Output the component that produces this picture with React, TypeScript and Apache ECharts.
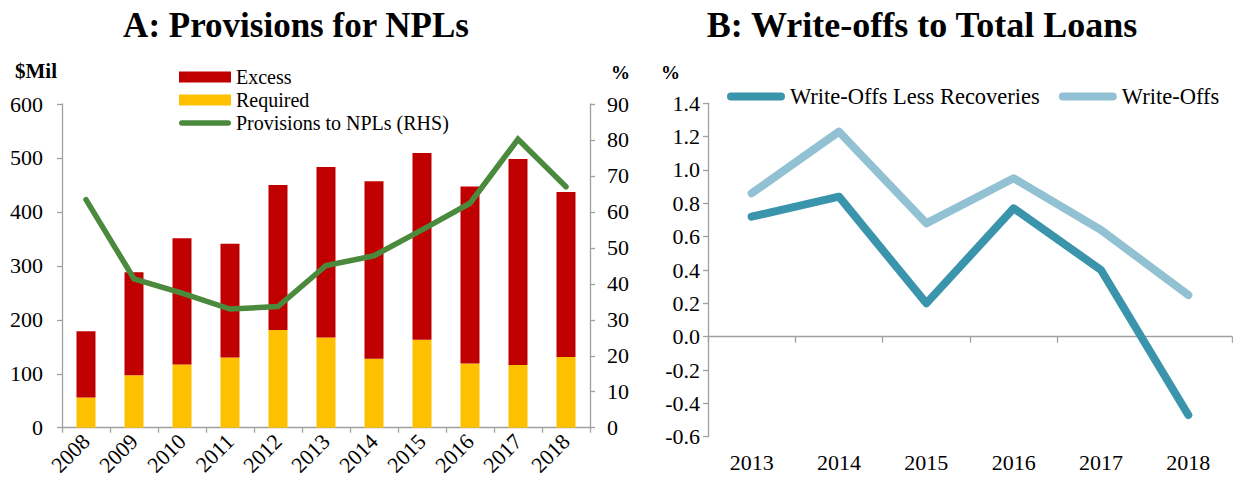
import React, { useEffect, useRef } from "react";
import * as echarts from "echarts";

const yearsA = ["2008", "2009", "2010", "2011", "2012", "2013", "2014", "2015", "2016", "2017", "2018"];
const requiredVals = [56, 97, 117, 130, 181, 167, 128, 163, 119, 116, 131];
const excessVals = [123, 191, 234, 211, 269, 316, 329, 346, 328, 382, 306];
const provisionsToNPLs = [63.4, 41.4, 37.4, 33.0, 33.7, 45.1, 47.8, 55.0, 62.4, 80.2, 67.0];

const yearsB = ["2013", "2014", "2015", "2016", "2017", "2018"];
const writeOffsLessRecoveries = [0.72, 0.84, 0.2, 0.77, 0.4, -0.47];
const writeOffs = [0.86, 1.23, 0.68, 0.95, 0.64, 0.25];

const FONT = "Liberation Serif";
const AXIS_COLOR = "#A0A0A0";

const greenIcon = "path://M2.75,0 L49.25,0 A2.75,2.75 0 0 1 49.25,5.5 L2.75,5.5 A2.75,2.75 0 0 1 2.75,0 Z";
const tealIcon = "path://M4,0 L54,0 A4,4 0 0 1 54,8 L4,8 A4,4 0 0 1 4,0 Z";

export default function App() {
  const ref = useRef<HTMLDivElement>(null);
  useEffect(() => {
    if (!ref.current) return;
    const chart = echarts.init(ref.current, undefined, { renderer: "svg" });
    const axisLine = { show: true, lineStyle: { color: AXIS_COLOR, width: 1.3 } };
    const axisTick = { show: true, length: 5, lineStyle: { color: AXIS_COLOR, width: 1.3 } };
    const lbl = { color: "#000", fontFamily: FONT, fontSize: 22 };
    chart.setOption({
      animation: false,
      backgroundColor: "#fff",
      textStyle: { fontFamily: FONT },
      grid: [
        { left: 62, top: 104, width: 528, height: 323.7, outerBoundsMode: "none", containLabel: false },
        { left: 708, top: 103.3, width: 524, height: 333.4, outerBoundsMode: "none", containLabel: false },
      ],
      xAxis: [
        {
          type: "category",
          gridIndex: 0,
          data: yearsA,
          boundaryGap: true,
          axisLine,
          axisTick: { ...axisTick, alignWithLabel: false },
          axisLabel: { ...lbl, rotate: 45, margin: 10, interval: 0 },
        },
        {
          type: "category",
          gridIndex: 1,
          data: yearsB,
          boundaryGap: true,
          axisLine: { ...axisLine, onZero: true },
          axisTick: { ...axisTick, length: 6, alignWithLabel: false },
          axisLabel: { show: false },
        },
        {
          type: "category",
          gridIndex: 1,
          data: yearsB,
          boundaryGap: true,
          position: "bottom",
          axisLine: { show: false, onZero: false },
          axisTick: { show: false },
          axisLabel: { ...lbl, margin: 15, interval: 0 },
        },
      ],
      yAxis: [
        {
          type: "value",
          gridIndex: 0,
          min: 0,
          max: 600,
          interval: 100,
          axisLine,
          axisTick,
          splitLine: { show: false },
          axisLabel: { ...lbl, margin: 19 },
        },
        {
          type: "value",
          gridIndex: 0,
          position: "right",
          min: 0,
          max: 90,
          interval: 10,
          axisLine,
          axisTick,
          splitLine: { show: false },
          axisLabel: { ...lbl, margin: 17 },
        },
        {
          type: "value",
          gridIndex: 1,
          min: -0.6,
          max: 1.4,
          interval: 0.2,
          axisLine,
          axisTick,
          splitLine: { show: false },
          axisLabel: { ...lbl, margin: 8, formatter: (v: number) => v.toFixed(1) },
        },
      ],
      legend: [
        {
          data: [
            { name: "Excess", icon: "rect" },
            { name: "Required", icon: "rect" },
            { name: "Provisions to NPLs (RHS)", icon: greenIcon },
          ],
          orient: "vertical",
          left: 179,
          top: 67,
          itemWidth: 52,
          itemHeight: 11,
          itemGap: 3,
          padding: 0,
          textStyle: { fontFamily: FONT, fontSize: 20, color: "#000" },
        },
        {
          data: [
            { name: "Write-Offs Less Recoveries", icon: tealIcon },
            { name: "Write-Offs", icon: tealIcon },
          ],
          orient: "horizontal",
          left: 727,
          top: 85,
          itemWidth: 58,
          itemHeight: 9,
          itemGap: 19,
          padding: 0,
          textStyle: { fontFamily: FONT, fontSize: 22.5, color: "#000" },
        },
      ],
      graphic: [
        {
          type: "text",
          x: 296,
          y: 25,
          style: {
            text: "A: Provisions for NPLs",
            font: `bold 35px "${FONT}"`,
            fill: "#000",
            align: "center",
            verticalAlign: "middle",
          },
        },
        {
          type: "text",
          x: 922,
          y: 25,
          style: {
            text: "B: Write-offs to Total Loans",
            font: `bold 36px "${FONT}"`,
            fill: "#000",
            align: "center",
            verticalAlign: "middle",
          },
        },
        {
          type: "text",
          x: 15,
          y: 71,
          style: { text: "$Mil", font: `bold 21px "${FONT}"`, fill: "#000", verticalAlign: "middle" },
        },
        {
          type: "text",
          x: 611,
          y: 72,
          style: { text: "%", font: `bold 19px "${FONT}"`, fill: "#000", verticalAlign: "middle" },
        },
        {
          type: "text",
          x: 661,
          y: 72,
          style: { text: "%", font: `bold 19px "${FONT}"`, fill: "#000", verticalAlign: "middle" },
        },
      ],
      series: [
        {
          name: "Required",
          type: "bar",
          xAxisIndex: 0,
          yAxisIndex: 0,
          stack: "prov",
          barWidth: 19,
          itemStyle: { color: "#FFC000" },
          data: requiredVals,
        },
        {
          name: "Excess",
          type: "bar",
          xAxisIndex: 0,
          yAxisIndex: 0,
          stack: "prov",
          barWidth: 19,
          itemStyle: { color: "#C00000" },
          data: excessVals,
        },
        {
          name: "Provisions to NPLs (RHS)",
          type: "line",
          xAxisIndex: 0,
          yAxisIndex: 1,
          symbol: "none",
          itemStyle: { color: "#4B8A3C" },
          lineStyle: { color: "#4B8A3C", width: 5.5, cap: "round", join: "miter" },
          data: provisionsToNPLs,
        },
        {
          name: "Write-Offs Less Recoveries",
          type: "line",
          xAxisIndex: 1,
          yAxisIndex: 2,
          symbol: "none",
          itemStyle: { color: "#3A94AC" },
          lineStyle: { color: "#3A94AC", width: 8, cap: "round", join: "round" },
          data: writeOffsLessRecoveries,
        },
        {
          name: "Write-Offs",
          type: "line",
          xAxisIndex: 1,
          yAxisIndex: 2,
          symbol: "none",
          itemStyle: { color: "#92C1D3" },
          lineStyle: { color: "#92C1D3", width: 8, cap: "round", join: "round" },
          data: writeOffs,
        },
      ],
    });
    return () => chart.dispose();
  }, []);
  return (
    <div
      ref={ref}
      style={{ position: "fixed", left: 0, top: 0, width: 1233, height: 483, background: "#fff" }}
    />
  );
}
